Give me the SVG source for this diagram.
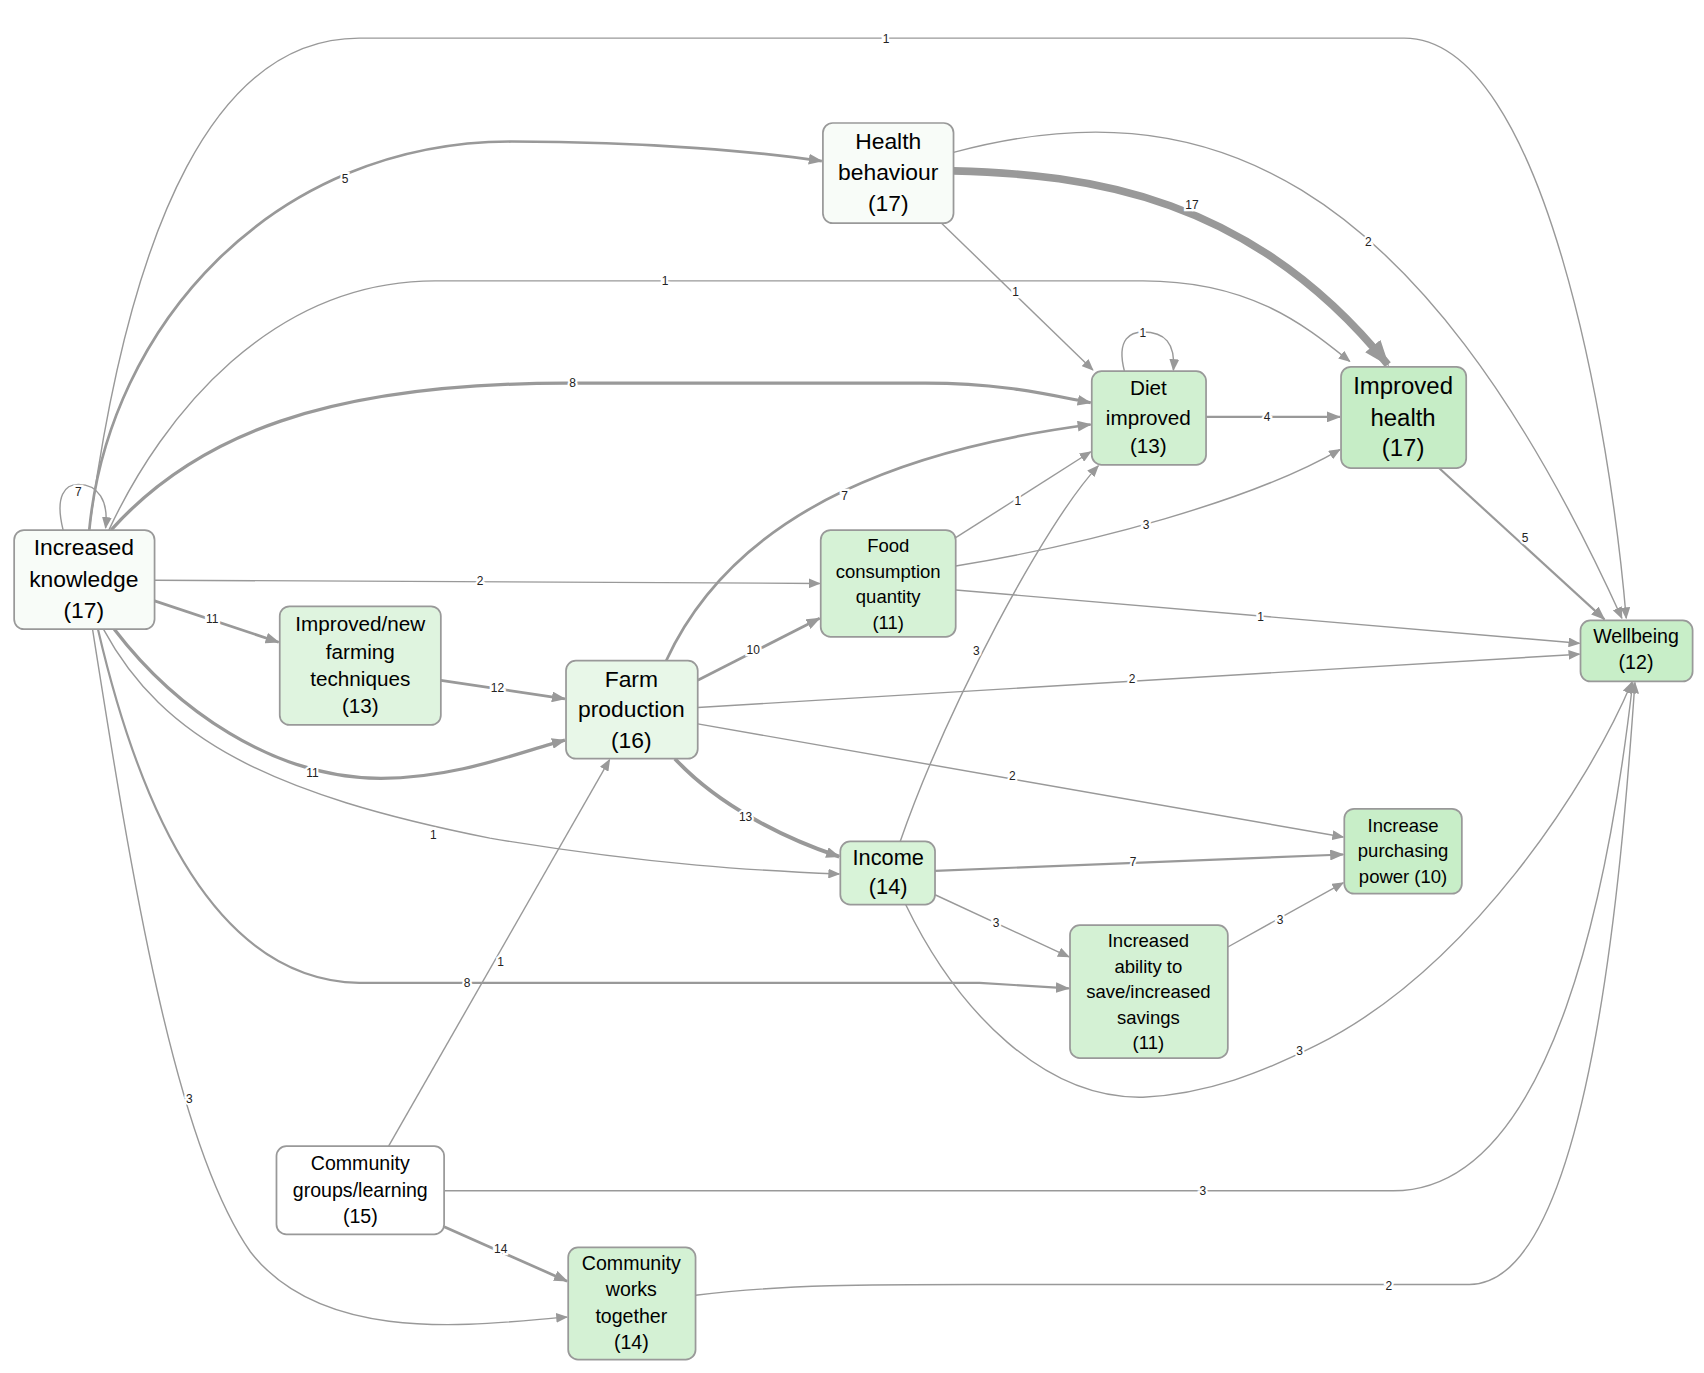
<svg xmlns="http://www.w3.org/2000/svg" width="1704" height="1373" viewBox="0 0 1704 1373">
<style>
.n rect{stroke:#999;stroke-width:1.6}
.n text{font-family:"Liberation Sans",Arial,sans-serif;fill:#000;text-anchor:middle}
.e path{fill:none;stroke:#999}
.e text{font-family:"Liberation Sans",Arial,sans-serif;font-size:11px;fill:#222;text-anchor:middle;dominant-baseline:central;paint-order:stroke;stroke:#fff;stroke-width:4px}
</style>
<defs>
<marker id="a" markerUnits="userSpaceOnUse" markerWidth="11" markerHeight="9" refX="10" refY="4.5" orient="auto"><path d="M0,0 L11,4.5 L0,9 z" fill="#999"/></marker>
<marker id="m" markerUnits="userSpaceOnUse" markerWidth="13" markerHeight="10" refX="12" refY="5" orient="auto"><path d="M0,0 L13,5 L0,10 z" fill="#999"/></marker>
<marker id="b" markerUnits="userSpaceOnUse" markerWidth="24" markerHeight="18" refX="22" refY="9" orient="auto"><path d="M0,0 L24,9 L0,18 z" fill="#999"/></marker>
</defs>
<rect width="1704" height="1373" fill="#fff"/>
<g transform="scale(1.0885)">
<g class="e" id="edges">
<path d="M82,487 C120,200 200,35 330,35 L1290,35 C1420,35 1480,400 1494,568" stroke-width="1.3" marker-end="url(#a)"/><text x="814" y="36">1</text>
<path d="M82,487 C100,300 250,130 470,130 C600,130 700,140 755,148" stroke-width="2.5" marker-end="url(#m)"/><text x="317" y="164">5</text>
<path d="M100,487 C150,380 250,258 400,258 L1050,258 C1150,258 1200,300 1240,332" stroke-width="1.3" marker-end="url(#a)"/><text x="611" y="258">1</text>
<path d="M102,487 C180,400 300,352 520,352 L850,352 C920,352 960,362 1002,370" stroke-width="3" marker-end="url(#m)"/><text x="526" y="352">8</text>
<path d="M58,487 C50,455 60,445 72,445 C90,445 100,460 97,485" stroke-width="1.3" marker-end="url(#a)"/><text x="72" y="452">7</text>
<path d="M142,533 L753,536" stroke-width="1.3" marker-end="url(#a)"/><text x="441" y="534">2</text>
<path d="M142,552 L256,590" stroke-width="2.5" marker-end="url(#m)"/><text x="195" y="569">11</text>
<path d="M105,578 C160,650 250,715 350,715 C420,715 480,690 519,680" stroke-width="3" marker-end="url(#m)"/><text x="287" y="710">11</text>
<path d="M95,578 C150,680 250,730 450,770 C600,795 700,800 771,803" stroke-width="1.3" marker-end="url(#a)"/><text x="398" y="767">1</text>
<path d="M90,578 C130,750 200,900 330,903 L900,903 L982,908" stroke-width="2" marker-end="url(#m)"/><text x="429" y="903">8</text>
<path d="M85,578 C120,800 160,1050 230,1150 C300,1240 450,1215 521,1210" stroke-width="1.3" marker-end="url(#a)"/><text x="174" y="1010">3</text>
<path d="M876,157 C1000,160 1150,180 1275,335" stroke-width="7" marker-end="url(#b)"/><text x="1095" y="188">17</text>
<path d="M876,140 C1100,80 1300,150 1490,568" stroke-width="1.3" marker-end="url(#a)"/><text x="1257" y="222">2</text>
<path d="M865,205 L1004,340" stroke-width="1.3" marker-end="url(#a)"/><text x="933" y="268">1</text>
<path d="M1033,341 C1025,310 1040,305 1050,305 C1070,305 1080,315 1078,340" stroke-width="1.3" marker-end="url(#a)"/><text x="1050" y="306">1</text>
<path d="M1108,383 L1231,383" stroke-width="2" marker-end="url(#m)"/><text x="1164" y="383">4</text>
<path d="M1322,430 L1474,569" stroke-width="2" marker-end="url(#m)"/><text x="1401" y="494">5</text>
<path d="M878,494 L1002,415" stroke-width="1.3" marker-end="url(#a)"/><text x="935" y="460">1</text>
<path d="M878,520 C1000,500 1150,460 1231,413" stroke-width="1.3" marker-end="url(#a)"/><text x="1053" y="482">3</text>
<path d="M878,542 L1451,591" stroke-width="1.3" marker-end="url(#a)"/><text x="1158" y="567">1</text>
<path d="M405,625 L519,642" stroke-width="2.5" marker-end="url(#m)"/><text x="457" y="632">12</text>
<path d="M612,607 C680,460 850,410 1002,390" stroke-width="2.5" marker-end="url(#m)"/><text x="776" y="456">7</text>
<path d="M641,625 L753,568" stroke-width="2.5" marker-end="url(#m)"/><text x="692" y="597">10</text>
<path d="M641,650 L1451,601" stroke-width="1.3" marker-end="url(#a)"/><text x="1040" y="624">2</text>
<path d="M641,665 L1234,769" stroke-width="1.3" marker-end="url(#a)"/><text x="930" y="713">2</text>
<path d="M620,697 C660,740 720,770 771,787" stroke-width="3.5" marker-end="url(#m)"/><text x="685" y="751">13</text>
<path d="M827,773 C870,650 960,480 1009,428" stroke-width="1.3" marker-end="url(#a)"/><text x="897" y="598">3</text>
<path d="M859,800 L1234,785" stroke-width="2" marker-end="url(#m)"/><text x="1041" y="792">7</text>
<path d="M859,822 L982,879" stroke-width="1.3" marker-end="url(#a)"/><text x="915" y="848">3</text>
<path d="M832,831 C880,930 960,1010 1050,1008 C1110,1005 1160,985 1210,960 C1350,890 1460,720 1499,627" stroke-width="1.3" marker-end="url(#a)"/><text x="1194" y="966">3</text>
<path d="M1128,870 L1234,811" stroke-width="1.3" marker-end="url(#a)"/><text x="1176" y="845">3</text>
<path d="M357,1053 L560,698" stroke-width="1.3" marker-end="url(#a)"/><text x="460" y="884">1</text>
<path d="M408,1094 L1280,1094 C1430,1094 1480,800 1500,627" stroke-width="1.3" marker-end="url(#a)"/><text x="1105" y="1094">3</text>
<path d="M408,1127 L521,1177" stroke-width="2.5" marker-end="url(#m)"/><text x="460" y="1147">14</text>
<path d="M639,1190 C720,1180 800,1180 900,1180 L1350,1180 C1460,1180 1490,800 1502,627" stroke-width="1.3" marker-end="url(#a)"/><text x="1276" y="1181">2</text>
</g>
<g class="n" id="increased-knowledge"><rect x="13" y="487" width="129" height="91" rx="9" fill="#f8fcf8"/><text font-size="21" x="77" y="510">Increased</text><text font-size="21" x="77" y="539">knowledge</text><text font-size="21" x="77" y="568">(17)</text></g>
<g class="n" id="health-behaviour"><rect x="756" y="113" width="120" height="92" rx="9" fill="#f8fcf8"/><text font-size="21" x="816" y="137">Health</text><text font-size="21" x="816" y="165">behaviour</text><text font-size="21" x="816" y="194">(17)</text></g>
<g class="n" id="diet-improved"><rect x="1003" y="341" width="105" height="86" rx="9" fill="#d1f0d1"/><text font-size="19" x="1055" y="363">Diet</text><text font-size="19" x="1055" y="390">improved</text><text font-size="19" x="1055" y="416">(13)</text></g>
<g class="n" id="improved-health"><rect x="1232" y="337" width="115" height="93" rx="9" fill="#c6edc6"/><text font-size="22" x="1289" y="362">Improved</text><text font-size="22" x="1289" y="391">health</text><text font-size="22" x="1289" y="419">(17)</text></g>
<g class="n" id="wellbeing"><rect x="1452" y="570" width="103" height="56" rx="9" fill="#c8eec8"/><text font-size="18" x="1503" y="591">Wellbeing</text><text font-size="18" x="1503" y="615">(12)</text></g>
<g class="n" id="food-consumption"><rect x="754" y="487" width="124" height="98" rx="9" fill="#d6f2d6"/><text font-size="17" x="816" y="507">Food</text><text font-size="17" x="816" y="531">consumption</text><text font-size="17" x="816" y="554">quantity</text><text font-size="17" x="816" y="578">(11)</text></g>
<g class="n" id="improved-farming"><rect x="257" y="557" width="148" height="109" rx="9" fill="#dff4df"/><text font-size="19" x="331" y="580">Improved/new</text><text font-size="19" x="331" y="605">farming</text><text font-size="19" x="331" y="630">techniques</text><text font-size="19" x="331" y="655">(13)</text></g>
<g class="n" id="farm-production"><rect x="520" y="607" width="121" height="90" rx="9" fill="#e8f7e8"/><text font-size="21" x="580" y="631">Farm</text><text font-size="21" x="580" y="659">production</text><text font-size="21" x="580" y="687">(16)</text></g>
<g class="n" id="income"><rect x="772" y="773" width="87" height="58" rx="9" fill="#d8f3d8"/><text font-size="20" x="816" y="795">Income</text><text font-size="20" x="816" y="821">(14)</text></g>
<g class="n" id="purchasing-power"><rect x="1235" y="743" width="108" height="78" rx="9" fill="#c8eec8"/><text font-size="17" x="1289" y="764">Increase</text><text font-size="17" x="1289" y="787">purchasing</text><text font-size="17" x="1289" y="811">power (10)</text></g>
<g class="n" id="increased-ability"><rect x="983" y="850" width="145" height="122" rx="9" fill="#d4f1d4"/><text font-size="17" x="1055" y="870">Increased</text><text font-size="17" x="1055" y="894">ability to</text><text font-size="17" x="1055" y="917">save/increased</text><text font-size="17" x="1055" y="941">savings</text><text font-size="17" x="1055" y="964">(11)</text></g>
<g class="n" id="community-groups"><rect x="254" y="1053" width="154" height="81" rx="9" fill="#ffffff"/><text font-size="18" x="331" y="1075">Community</text><text font-size="18" x="331" y="1100">groups/learning</text><text font-size="18" x="331" y="1124">(15)</text></g>
<g class="n" id="community-works"><rect x="522" y="1146" width="117" height="103" rx="9" fill="#d4f1d4"/><text font-size="18" x="580" y="1167">Community</text><text font-size="18" x="580" y="1191">works</text><text font-size="18" x="580" y="1215">together</text><text font-size="18" x="580" y="1239">(14)</text></g>
</g>
</svg>
